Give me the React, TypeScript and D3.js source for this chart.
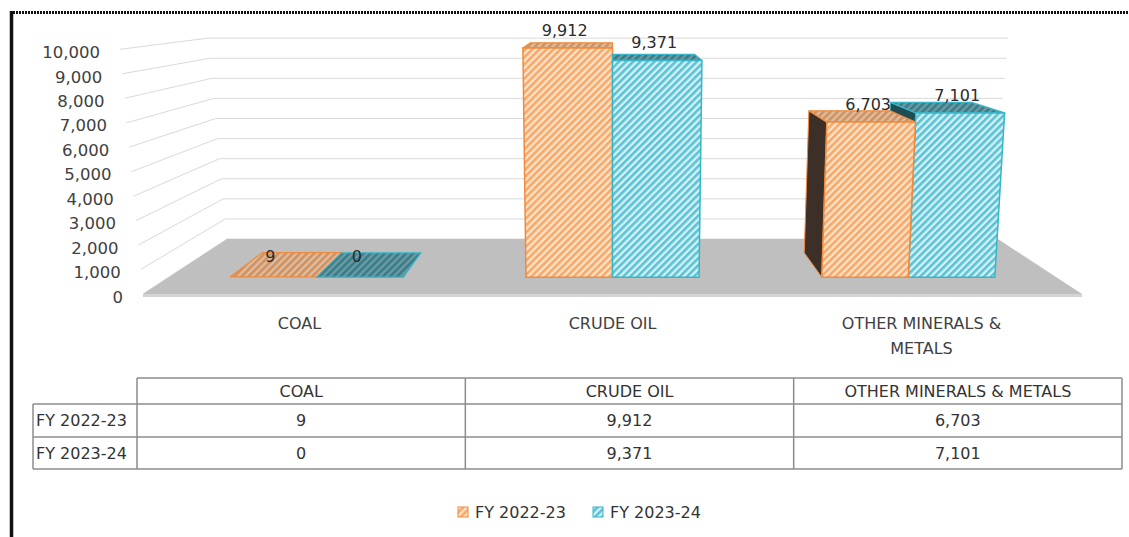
import React, { useEffect, useRef } from "react";
import * as d3 from "d3";

// chart data
const categories = ["COAL", "CRUDE OIL", "OTHER MINERALS & METALS"];
const axisLines = [["COAL"], ["CRUDE OIL"], ["OTHER MINERALS &", "METALS"]];
const seriesNames = ["FY 2022-23", "FY 2023-24"];
const fy2223 = [9, 9912, 6703];
const fy2324 = [0, 9371, 7101];
const yTicks = [0, 1000, 2000, 3000, 4000, 5000, 6000, 7000, 8000, 9000, 10000];

const stripe = ["#f7a866", "#58c3d4"];
const paper = ["#fde3cc", "#d6f0f5"];
const edge = ["#f08a3c", "#39b5c8"];
const sideFill = ["#3b2f27", "#1e4d54"];
const topShade = ["rgba(90,60,40,0.22)", "rgba(0,45,55,0.45)"];

const FONT = "DejaVu Sans, Verdana, sans-serif";

export default function App() {
	const ref = useRef<SVGSVGElement>(null);

	useEffect(() => {
		const svg = d3.select(ref.current);
		svg.selectAll("*").remove();

		const fmt = d3.format(",");
		const values = [fy2223, fy2324];

		// one-point perspective toward (vx, vy), verticals lean a little
		const vx = 612.5,
			vy = -13;
		const leanWall = 0.049,
			leanBar = 0.036;
		const x = d3.scaleBand<string>().domain(categories).range([143, 1082]);
		const y = d3.scaleLinear().domain([0, 10000]).range([294, 49.3]);
		const depth = d3.scaleLinear().domain([0, 1]).range([1, 0.821]);
		const zFront = 0.307,
			zBack = 0.749;

		function proj(px: number, v: number, d: number, lean: number = leanWall): [number, number] {
			var k = 1 + (lean * v) / 10000;
			var fx = vx + (px - vx) * k;
			var s = depth(d);
			return [vx + (fx - vx) * s, vy + (y(v) - vy) * s];
		}
		function pb(px: number, v: number, d: number) {
			return proj(px, v, d, leanBar);
		}
		function poly(pts: [number, number][]) {
			return "M" + pts.map((p) => p[0].toFixed(2) + "," + p[1].toFixed(2)).join("L") + "Z";
		}

		// hatch patterns
		const defs = svg.append("defs");
		[0, 1].forEach(function (i) {
			var p = defs
				.append("pattern")
				.attr("id", "hatch" + i)
				.attr("width", 5)
				.attr("height", 5)
				.attr("patternUnits", "userSpaceOnUse")
				.attr("patternTransform", "rotate(45)");
			p.append("rect").attr("width", 5).attr("height", 5).attr("fill", paper[i]);
			p.append("rect").attr("width", 2.6).attr("height", 5).attr("fill", stripe[i]);
		});

		svg.append("rect").attr("width", 1129).attr("height", 537).attr("fill", "#fff");

		// frame
		svg
			.append("line")
			.attr("x1", 10)
			.attr("x2", 1129)
			.attr("y1", 12.5)
			.attr("y2", 12.5)
			.attr("stroke", "#111")
			.attr("stroke-width", 3)
			.attr("stroke-dasharray", "2 1");
		svg
			.append("line")
			.attr("x1", 11.5)
			.attr("x2", 11.5)
			.attr("y1", 11)
			.attr("y2", 537)
			.attr("stroke", "#111")
			.attr("stroke-width", 3.5);

		const x0 = x.range()[0],
			x1 = x.range()[1];

		// gridlines: left wall then back wall
		svg
			.append("g")
			.selectAll("path")
			.data(yTicks)
			.enter()
			.append("path")
			.attr("fill", "none")
			.attr("stroke", "#d9d9d9")
			.attr("stroke-width", 1)
			.attr("d", function (v) {
				var a = proj(x0, v, 0),
					b = proj(x0, v, 1),
					c = proj(x1 - 10, v, 1);
				return "M" + a + "L" + b + "L" + c;
			});

		// y labels
		svg
			.append("g")
			.selectAll("text")
			.data(yTicks)
			.enter()
			.append("text")
			.attr("x", (v) => proj(x0, v, 0)[0] - 20)
			.attr("y", (v) => proj(x0, v, 0)[1] + 3)
			.attr("dy", "0.35em")
			.attr("text-anchor", "end")
			.attr("font-family", FONT)
			.attr("font-size", 16.5)
			.attr("fill", "#404040")
			.text((v) => fmt(v));

		// floor
		svg
			.append("path")
			.attr("fill", "#d4d4d4")
			.attr("d", poly([proj(x0, 0, 0), proj(x1, 0, 0), [proj(x1, 0, 0)[0], proj(x1, 0, 0)[1] + 3], [proj(x0, 0, 0)[0], proj(x0, 0, 0)[1] + 3]]));
		svg
			.append("path")
			.attr("fill", "#bfbfbf")
			.attr("d", poly([proj(x0, 0, 0), proj(x1, 0, 0), proj(x1, 0, 1), proj(x0, 0, 1)]));

		// bars
		const bw = x.bandwidth();
		const groupW = bw * 0.585;
		const xs = d3.scaleBand<string>().domain(seriesNames).range([0, groupW]);
		type Bar = { a: number; b: number; v: number; s: number };
		const bars: Bar[] = [];
		categories.forEach(function (c, i) {
			seriesNames.forEach(function (n, j) {
				var a = (x(c) as number) + (bw - groupW) / 2 + (xs(n) as number);
				bars.push({ a: a, b: a + xs.bandwidth(), v: values[j][i], s: j });
			});
		});
		bars.sort((p, q) => Math.abs((q.a + q.b) / 2 - vx) - Math.abs((p.a + p.b) / 2 - vx));

		const gBars = svg.append("g");
		bars.forEach(function (d) {
			var g = gBars.append("g");
			var mid = (d.a + d.b) / 2;
			// side face
			var sx = mid > vx ? d.a : d.b;
			if ((mid > vx && d.a > vx + 1) || (mid < vx && d.b < vx - 1)) {
				g.append("path")
					.attr("fill", sideFill[d.s])
					.attr("stroke", edge[d.s])
					.attr("stroke-width", 1)
					.attr("d", poly([pb(sx, 0, zFront), pb(sx, d.v, zFront), pb(sx, d.v, zBack), pb(sx, 0, zBack)]));
			}
			// top face
			var top = poly([pb(d.a, d.v, zFront), pb(d.b, d.v, zFront), pb(d.b, d.v, zBack), pb(d.a, d.v, zBack)]);
			g.append("path").attr("fill", "url(#hatch" + d.s + ")").attr("d", top);
			g.append("path")
				.attr("fill", topShade[d.s])
				.attr("stroke", edge[d.s])
				.attr("stroke-width", 1.2)
				.attr("stroke-linejoin", "round")
				.attr("d", top);
			// front face
			if (d.v > 50) {
				g.append("path")
					.attr("fill", "url(#hatch" + d.s + ")")
					.attr("stroke", edge[d.s])
					.attr("stroke-width", 1.5)
					.attr("d", poly([pb(d.a, 0, zFront), pb(d.b, 0, zFront), pb(d.b, d.v, zFront), pb(d.a, d.v, zFront)]));
			}
		});

		// value labels
		svg
			.append("g")
			.selectAll("text")
			.data(bars)
			.enter()
			.append("text")
			.attr("x", (d) => pb((d.a + d.b) / 2, d.v, zFront)[0] - 3)
			.attr("y", (d) => pb((d.a + d.b) / 2, d.v, zFront)[1] - (d.v < 50 ? 15 : 12))
			.attr("text-anchor", "middle")
			.attr("font-family", FONT)
			.attr("font-size", 16)
			.attr("fill", "#2b2b2b")
			.text((d) => fmt(d.v));

		// category labels
		svg
			.append("g")
			.selectAll("text")
			.data(categories)
			.enter()
			.append("text")
			.attr("x", (c) => (x(c) as number) + bw / 2)
			.attr("y", 329)
			.attr("text-anchor", "middle")
			.attr("font-family", FONT)
			.attr("font-size", 16)
			.attr("fill", "#404040")
			.each(function (c, i) {
				var t = d3.select(this);
				axisLines[i].forEach(function (line, k) {
					t.append("tspan")
						.attr("x", (x(c) as number) + bw / 2 - (i === 2 ? 4 : 0))
						.attr("dy", k === 0 ? 0 : 25)
						.text(line);
				});
			});

		// data table
		const tx = d3.scaleBand<string>().domain(categories).range([137, 1122]);
		const rowY = [378, 404, 437, 469];
		const labelX = 33;
		const table = svg.append("g").attr("stroke", "#8c8c8c").attr("stroke-width", 1.5).attr("fill", "none");
		table.append("line").attr("x1", 137).attr("x2", 1122).attr("y1", rowY[0]).attr("y2", rowY[0]);
		rowY.slice(1).forEach(function (ry) {
			table.append("line").attr("x1", labelX).attr("x2", 1122).attr("y1", ry).attr("y2", ry);
		});
		table.append("line").attr("x1", labelX).attr("x2", labelX).attr("y1", rowY[1]).attr("y2", rowY[3]);
		categories.forEach(function (c) {
			table.append("line").attr("x1", tx(c) as number).attr("x2", tx(c) as number).attr("y1", rowY[0]).attr("y2", rowY[3]);
		});
		table.append("line").attr("x1", 1122).attr("x2", 1122).attr("y1", rowY[0]).attr("y2", rowY[3]);

		const tText = svg.append("g").attr("font-family", FONT).attr("font-size", 16).attr("fill", "#333");
		categories.forEach(function (c, i) {
			var cx = (tx(c) as number) + tx.bandwidth() / 2;
			tText.append("text").attr("x", cx).attr("y", (rowY[0] + rowY[1]) / 2).attr("dy", "0.35em").attr("text-anchor", "middle").text(c);
			values.forEach(function (vals, j) {
				tText
					.append("text")
					.attr("x", cx)
					.attr("y", (rowY[j + 1] + rowY[j + 2]) / 2)
					.attr("dy", "0.35em")
					.attr("text-anchor", "middle")
					.text(fmt(vals[i]));
			});
		});
		seriesNames.forEach(function (n, j) {
			tText
				.append("text")
				.attr("x", labelX + 3)
				.attr("y", (rowY[j + 1] + rowY[j + 2]) / 2)
				.attr("dy", "0.35em")
				.text(n);
		});

		// legend
		const legendX = [458, 593];
		const legend = svg.append("g");
		seriesNames.forEach(function (n, j) {
			legend
				.append("rect")
				.attr("x", legendX[j])
				.attr("y", 507)
				.attr("width", 10)
				.attr("height", 10)
				.attr("fill", "url(#hatch" + j + ")")
				.attr("stroke", edge[j])
				.attr("stroke-width", 1);
			legend
				.append("text")
				.attr("x", legendX[j] + 17)
				.attr("y", 512)
				.attr("dy", "0.35em")
				.attr("font-family", FONT)
				.attr("font-size", 16)
				.attr("fill", "#333")
				.text(n);
		});
	}, []);

	return (
		<svg
			ref={ref}
			width={1129}
			height={537}
			style={{ position: "absolute", left: 0, top: 0, display: "block" }}
		/>
	);
}
